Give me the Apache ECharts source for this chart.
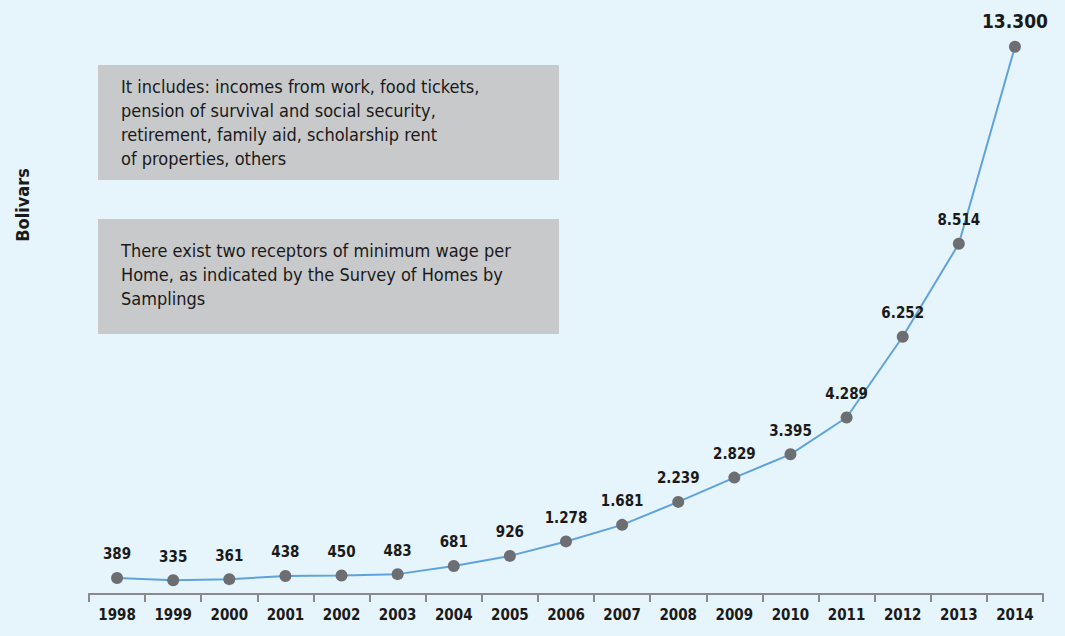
<!DOCTYPE html>
<html><head><meta charset="utf-8">
<script src="https://cdn.jsdelivr.net/npm/echarts@6/dist/echarts.min.js"></script>
<style>html,body{margin:0;padding:0;background:#e6f4fc;}#c{width:1065px;height:636px;}</style>
</head><body><div id="c"></div>
<script>
const years = ['1998','1999','2000','2001','2002','2003','2004','2005','2006','2007','2008','2009','2010','2011','2012','2013','2014'];
const values = [389,335,361,438,450,483,681,926,1278,1681,2239,2829,3395,4289,6252,8514,13300];
const labels = ['389','335','361','438','450','483','681','926','1.278','1.681','2.239','2.829','3.395','4.289','6.252','8.514','13.300'];
const yAxisName = 'Bolivars';
const note1 = 'It includes: incomes from work, food tickets,\npension of survival and social security,\nretirement, family aid, scholarship rent\nof properties, others';
const note2 = 'There exist two receptors of minimum wage per\nHome, as indicated by the Survey of Homes by\nSamplings';

const FONT = '"Liberation Sans Narrow","DejaVu Sans Condensed","Roboto",sans-serif';
const chart = echarts.init(document.getElementById('c'), null, {renderer:'svg'});
chart.setOption({
  backgroundColor:'#e6f4fc',
  animation:false,
  grid:{left:89,right:22,top:18,bottom:42},
  xAxis:{type:'category',data:years,boundaryGap:true,
    axisLine:{lineStyle:{color:'#8a8a8a',width:2}},
    axisTick:{show:true,length:8,lineStyle:{color:'#8a8a8a',width:2}},
    axisLabel:{color:'#1a1a1a',fontWeight:'bold',fontSize:15,fontFamily:FONT,margin:13}},
  yAxis:{type:'value',min:0,max:14000,show:false},
  graphic:[
    {type:'rect',left:98,top:65,shape:{width:461,height:115},style:{fill:'#c8c9cb'}},
    {type:'text',left:121,top:74,style:{text:note1,fill:'#1a1a1a',font:'18px '+FONT,lineHeight:24}},
    {type:'rect',left:98,top:219,shape:{width:461,height:115},style:{fill:'#c8c9cb'}},
    {type:'text',left:121,top:238,style:{text:note2,fill:'#1a1a1a',font:'18px '+FONT,lineHeight:24}},
    {type:'text',x:22,y:205,rotation:Math.PI/2,style:{text:yAxisName,fill:'#1a1a1a',font:'bold 18px '+FONT,align:'center',verticalAlign:'middle'}}
  ],
  series:[{type:'line',data:values.map((v,i)=>i===values.length-1?{value:v,label:{fontSize:19}}:v),
    symbol:'circle',symbolSize:12,
    lineStyle:{color:'#5fa3dc',width:2},
    itemStyle:{color:'#6d6e71'},
    label:{show:true,position:'top',distance:10,color:'#1a1a1a',fontWeight:'bold',fontSize:15,fontFamily:FONT,
      formatter:p=>labels[p.dataIndex]}}]
});
</script></body></html>
